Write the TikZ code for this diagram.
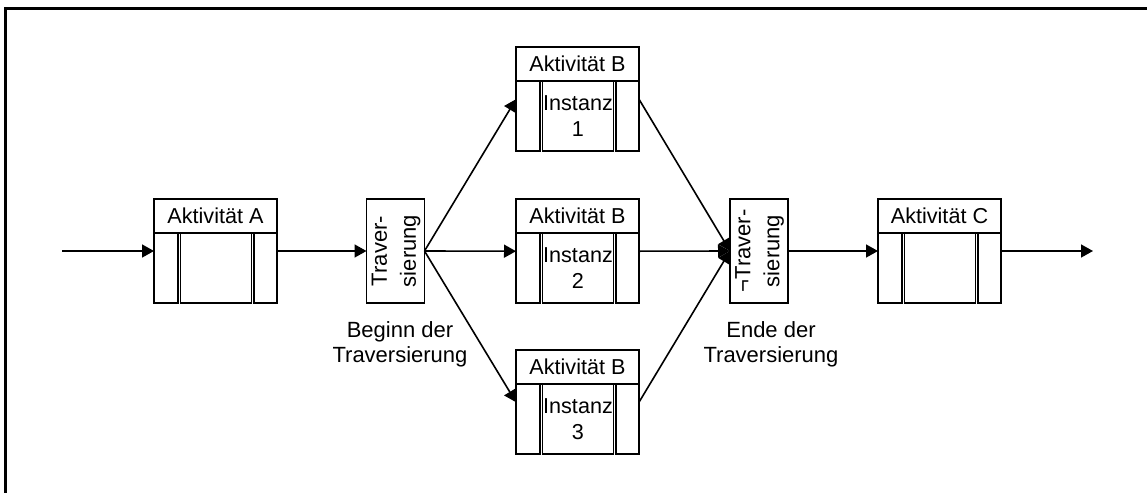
\documentclass[tikz,border=0pt]{standalone}
\usepackage{fontspec}
\setmainfont{Liberation Sans}
\usepackage{graphicx}
\usetikzlibrary{positioning,calc,arrows.meta}

\begin{document}
\begin{tikzpicture}[x=0.5pt,y=-0.5pt,
  every node/.style={font=\fontsize{10.8}{13}\selectfont},
  frame/.style={draw, line width=0.8pt, inner sep=0pt, outer sep=0pt},
  acthead/.style={frame, minimum width=61.5pt, minimum height=17pt},
  actside/.style={frame, minimum height=35pt, minimum width=#1},
  actmid/.style={frame, minimum height=35pt, minimum width=35.4pt, align=center},
  travbox/.style={frame, minimum width=27.5pt, minimum height=52pt,
    font=\fontsize{11}{14.5}\selectfont},
  note/.style={align=center, font=\fontsize{11}{12.5}\selectfont},
  flow/.style={line width=0.8pt, -{Triangle[length=6pt,width=6.5pt]}}]
  \useasboundingbox (0,0) rectangle (1147,493);
  \draw[line width=1.5pt] (5,493) -- (5,8) -- (1147,8);

  % Aktivitaet A
  \node[acthead] (a-head) at (215.5,216) {Aktivität A};
  \node[actside=12pt, below right=0pt of a-head.south west] (a-in) {};
  \node[actmid, right=1.3pt of a-in] (a-mid) {};
  \node[actside=11.5pt, right=1.3pt of a-mid] (a-out) {};

  % Beginn der Traversierung
  \node[travbox] (trav1) at (395.5,251)
    {\rotatebox{90}{\begin{tabular}{@{}c@{}}Traver-\\sierung\end{tabular}}};
  \node[note] (beginn) at (400,344.5) {Beginn der\\Traversierung};

  % Instanzen von B
  \node[acthead] (b1-head) at (577.5,64) {Aktivität B};
  \node[actside=12pt, below right=0pt of b1-head.south west] (b1-in) {};
  \node[actmid, right=1.3pt of b1-in] (b1-mid) {Instanz\\1};
  \node[actside=11.5pt, right=1.3pt of b1-mid] (b1-out) {};

  \node[acthead] (b2-head) at (577.5,216) {Aktivität B};
  \node[actside=12pt, below right=0pt of b2-head.south west] (b2-in) {};
  \node[actmid, right=1.3pt of b2-in] (b2-mid) {Instanz\\2};
  \node[actside=11.5pt, right=1.3pt of b2-mid] (b2-out) {};

  \node[acthead] (b3-head) at (577.5,367) {Aktivität B};
  \node[actside=12pt, below right=0pt of b3-head.south west] (b3-in) {};
  \node[actmid, right=1.3pt of b3-in] (b3-mid) {Instanz\\3};
  \node[actside=11.5pt, right=1.3pt of b3-mid] (b3-out) {};

  % Ende der Traversierung
  \node[travbox, minimum width=28pt] (trav2) at (759,251)
    {\rotatebox{90}{\begin{tabular}{@{}c@{}}¬Traver-\\sierung\end{tabular}}};
  \node[note] (ende) at (771,344.5) {Ende der\\Traversierung};

  % Aktivitaet C
  \node[acthead] (c-head) at (939.5,216) {Aktivität C};
  \node[actside=12pt, below right=0pt of c-head.south west] (c-in) {};
  \node[actmid, right=1.3pt of c-in] (c-mid) {};
  \node[actside=11.5pt, right=1.3pt of c-mid] (c-out) {};

  % Kontrollfluss
  \coordinate (start) at (62,251);
  \coordinate (end) at (1093,251);
  \draw[flow] (start) -- (start -| a-in.west);
  \draw[flow] (a-out.east |- trav1.west) -- (trav1.west);
  \draw[flow] (trav1.east) -- ($(b1-in.north west)!0.26!(b1-in.south west)$);
  \draw[flow] (trav1.east) -- ($(b2-in.north west)!0.26!(b2-in.south west)$);
  \draw[flow] (trav1.east) -- ($(b3-in.north west)!0.26!(b3-in.south west)$);
  \draw[flow] ($(b1-out.north east)!0.26!(b1-out.south east)$) -- (trav2.west);
  \draw[flow] ($(b2-out.north east)!0.26!(b2-out.south east)$) -- (trav2.west);
  \draw[flow] ($(b3-out.north east)!0.26!(b3-out.south east)$) -- (trav2.west);
  \draw[flow] (trav2.east) -- (trav2.east -| c-in.west);
  \draw[flow] (c-out.east |- end) -- (end);
\end{tikzpicture}
\end{document}
